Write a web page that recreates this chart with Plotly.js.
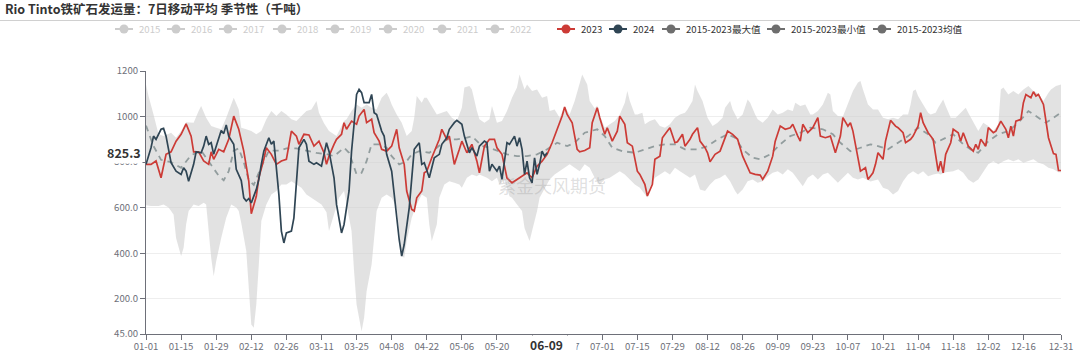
<!DOCTYPE html>
<html><head><meta charset="utf-8">
<script src="https://cdn.plot.ly/plotly-3.0.1.min.js"></script>
<style>html,body{margin:0;padding:0;background:#fff}#chart{width:1080px;height:352px}</style>
</head><body><div id="chart"></div>
<script>
// Day-of-year positions on the seasonal (leap-year) axis, 0 = 01-01
const day2023 = [0,2,4,6,8,10,12,14,16,18,
  19,21,23,25,26,27,29,31,33,35,
  37,39,41,42,44,45,47,48,50,52,
  54,56,58,60,61,63,65,67,69,71,
  72,73,75,76,78,79,80,82,84,85,
  87,88,90,91,93,94,96,98,100,101,
  103,104,106,107,108,110,111,112,114,116,
  117,118,120,121,123,125,126,128,130,132,
  133,135,137,139,140,142,144,146,148,150,
  152,154,156,158,160,162,164,166,167,168,
  170,172,173,175,177,178,180,181,183,184,
  186,188,189,191,192,194,196,197,199,200,
  202,203,205,206,208,209,211,212,214,215,
  217,218,220,221,223,224,225,227,229,230,
  232,234,236,238,239,241,243,245,246,248,
  250,251,253,255,257,258,260,261,262,264,
  266,268,269,271,273,275,277,278,280,281,
  282,284,285,287,288,290,291,292,294,295,
  297,299,300,302,303,305,306,308,309,310,
  312,314,315,316,317,318,319,321,322,324,
  325,326,328,330,331,332,333,335,336,338,
  339,341,343,344,345,346,347,349,350,351,
  353,354,355,356,358,359,360,362,363,364,365];
const val2023 = [790,790,805,731,834,845,892,922,968,914,
  845,845,805,790,845,812,856,845,900,1002,
  944,848,716,573,650,731,812,863,834,790,
  805,812,936,914,878,922,919,870,892,841,
  790,826,878,900,922,973,944,980,966,1002,
  1031,973,988,929,892,856,848,870,944,863,
  790,673,592,585,643,673,753,760,819,870,
  900,944,900,914,790,856,892,841,878,804,
  753,870,900,900,863,834,730,709,724,738,
  753,731,782,804,834,885,944,1002,1042,1009,
  973,856,845,851,863,973,1039,995,922,951,
  892,936,1002,966,885,870,760,746,702,651,
  702,812,826,907,936,951,885,889,922,870,
  900,922,951,892,863,841,801,834,848,878,
  936,922,900,826,804,753,746,743,724,760,
  826,892,958,944,951,966,914,892,966,929,
  951,995,914,907,914,841,914,995,958,973,
  936,819,760,775,724,753,790,841,812,892,
  983,958,951,929,885,900,914,958,1017,973,
  929,900,826,760,804,753,834,885,944,929,
  892,929,870,848,878,856,900,870,951,929,
  936,980,944,907,958,914,980,988,1061,1097,
  1083,1109,1090,1097,1053,973,907,837,834,763,763];

const day2024 = [0,2,3,4,6,7,8,9,10,12,
  14,15,16,17,19,20,22,23,24,25,
  26,27,29,30,31,32,33,35,36,38,
  39,40,41,42,44,45,46,47,49,50,
  51,52,53,54,55,56,58,59,60,61,
  63,64,65,67,68,70,72,73,75,76,
  78,79,81,82,83,84,85,86,87,89,
  90,91,92,94,95,96,98,99,100,101,
  102,103,105,106,107,109,110,111,113,114,
  115,117,118,120,121,123,124,126,127,129,
  130,132,133,135,136,137,138,140,141,142,
  144,145,147,148,149,150,151,152,153,154,
  155,156,157,158,159,160];
const val2024 = [790,863,914,900,944,948,914,848,797,760,
  746,775,760,716,790,845,841,870,914,878,
  885,834,907,939,925,963,914,878,768,719,
  643,629,640,621,680,724,790,848,907,878,
  892,790,658,497,445,489,497,555,716,863,
  900,878,804,790,797,782,885,848,731,614,
  489,526,673,848,966,1097,1119,1105,1061,1061,
  1097,1017,1009,936,914,834,760,658,555,460,
  387,438,599,746,856,885,790,797,731,775,
  819,834,878,907,944,973,983,966,914,841,
  863,826,870,892,885,760,790,760,782,724,
  885,878,914,870,907,856,746,804,731,709,
  819,746,790,848,826,841];

const dayAvg = [0,3,6,10,14,18,22,26,29,31,
  33,35,37,39,41,43,46,49,53,56,
  60,64,68,72,75,79,81,84,86,88,
  90,93,96,98,101,104,106,109,113,116,
  120,124,128,130,134,137,141,144,148,152,
  156,160,164,168,171,175,180,183,186,190,
  195,199,203,207,211,215,218,220,224,228,
  232,235,238,242,245,249,253,257,261,265,
  270,274,277,281,285,289,292,296,300,304,
  308,312,315,318,322,326,330,332,336,340,
  344,348,352,355,359,362,365];
const valAvg = [960,870,810,800,775,830,850,790,740,720,
  760,850,860,800,720,700,780,850,850,860,
  860,850,840,835,826,863,841,746,753,804,
  878,878,863,826,790,804,834,848,841,863,
  900,900,907,914,870,863,848,834,826,826,
  834,856,885,870,885,929,944,914,863,848,
  841,856,870,878,878,856,856,856,870,900,
  922,907,856,819,812,834,878,914,929,951,
  944,922,885,848,863,878,870,856,885,914,
  951,922,885,900,922,878,848,841,892,922,
  936,973,1024,1002,973,995,1017];

const dayMax = [0,1,3,5,7,10,12,14,16,19,
  21,22,24,26,28,30,32,34,35,37,
  38,40,42,44,46,48,50,52,54,56,
  58,60,62,64,66,68,69,71,73,76,
  79,80,82,84,86,88,90,92,94,96,
  97,98,100,102,104,106,107,108,110,111,
  112,114,116,118,120,122,124,126,127,129,
  130,132,133,135,137,138,140,142,144,146,
  148,149,151,152,154,156,158,160,161,163,
  165,167,169,171,173,174,176,177,179,180,
  181,183,185,187,189,191,192,193,195,196,
  198,199,201,203,205,207,209,211,213,215,
  216,218,219,220,222,224,226,228,230,231,
  233,234,236,238,240,241,243,244,246,248,
  250,252,254,256,258,259,261,263,265,266,
  268,270,272,273,274,276,278,280,282,284,
  285,286,288,290,292,294,296,298,300,302,
  304,305,306,307,308,310,312,313,315,316,
  318,319,321,323,325,327,328,330,332,334,
  336,338,340,341,342,344,346,348,350,352,
  354,356,358,360,361,363,365];
const valMax = [1141,1090,1009,922,914,929,907,936,975,973,
  1024,1046,995,958,951,944,995,1053,1083,1031,
  951,944,936,922,936,988,1024,1002,1024,1009,
  988,980,1002,1024,1031,1068,1017,970,936,914,
  980,988,1024,1053,1039,1053,1039,1031,1083,1105,
  1083,1053,1009,973,914,936,995,1090,1061,1083,
  1083,1046,1009,1017,1024,995,980,1039,1127,1134,
  1119,1024,988,973,988,1046,973,980,1024,1083,
  1127,1185,1119,1141,1112,1119,1083,1090,1024,1031,
  995,1045,1009,1068,1141,1185,1141,1068,1035,1048,
  1005,951,966,980,1009,1061,1112,1068,1009,1009,
  1017,966,980,988,958,951,966,995,1009,1017,
  1031,1068,1141,1112,1068,995,958,973,995,1039,
  1068,1031,988,1009,1075,1061,1009,988,973,995,
  1031,1009,1017,1031,1024,1061,1046,1053,1009,1009,
  1024,1053,1105,1097,1024,1002,1000,1053,1112,1149,
  1156,1119,1053,1031,1031,995,988,995,988,1009,
  1009,1053,1112,1119,1090,1053,1017,1009,1017,1039,
  1075,1046,995,995,1017,1039,1017,973,936,973,
  958,936,966,1119,1127,1097,1112,1097,1119,1134,
  1112,1100,1068,1105,1119,1134,1141];

const dayMin = [0,2,5,7,9,11,12,14,15,16,
  17,19,21,23,24,25,26,27,28,30,
  32,34,36,37,38,40,41,42,43,44,
  45,46,48,50,52,54,56,58,60,62,
  64,66,68,70,72,73,75,77,79,80,
  82,83,84,86,87,88,90,91,92,94,
  96,98,100,101,102,103,104,106,108,110,
  112,113,114,116,117,119,121,123,125,126,
  128,130,132,133,136,138,140,141,143,145,
  146,148,150,151,153,154,156,157,159,161,
  163,165,167,169,171,173,175,177,179,181,
  183,185,187,189,191,193,195,197,199,200,
  201,203,205,207,209,211,213,215,217,219,
  221,223,225,227,229,231,233,235,236,238,
  240,242,244,246,248,250,252,254,256,258,
  260,262,264,266,268,270,272,274,276,278,
  280,282,284,286,288,289,292,294,296,298,
  300,302,304,306,308,310,312,314,316,317,
  319,322,324,326,328,330,332,334,336,338,
  340,342,344,346,348,350,352,354,356,358,
  360,362,364,365];
const valMin = [610,607,607,614,600,570,467,387,424,526,
  585,614,607,621,614,497,380,299,365,467,
  555,614,600,585,533,409,233,87,72,175,
  350,541,614,658,673,702,702,716,702,687,
  658,643,629,614,580,497,570,643,673,614,
  497,321,175,57,116,233,350,467,585,643,
  658,643,599,497,387,380,453,555,614,658,
  643,526,453,526,643,702,716,709,702,687,
  731,746,738,745,731,716,731,702,724,650,
  643,614,585,511,453,497,585,643,687,724,
  746,760,775,790,775,760,790,775,731,702,
  724,731,746,760,746,724,702,687,660,645,
  690,731,746,760,746,775,760,746,731,746,
  680,673,702,724,731,746,716,673,658,680,
  716,724,709,716,738,753,760,746,768,753,
  724,694,731,746,724,746,753,731,709,731,
  753,731,724,731,720,715,724,687,680,658,
  673,716,746,760,746,760,738,746,750,745,
  755,760,768,753,724,709,724,760,790,804,
  790,804,812,804,812,797,804,812,797,790,
  775,768,755,755];

const xTickLabels = ['01-01','01-15','01-29','02-12','02-26','03-11','03-25','04-08','04-22','05-06','05-20','06-03','06-17',
  '07-01','07-15','07-29','08-12','08-26','09-09','09-23','10-07','10-21','11-04','11-18','12-02','12-16','12-31'];
const yTickVals = [45,200,400,600,800,1000,1200];
const yTickLabels = ['45.00','200.0','400.0','600.0','800.0','1000','1200'];
const legendNames = ['2015','2016','2017','2018','2019','2020','2021','2022','2023','2024','2015-2023最大值','2015-2023最小值','2015-2023均值'];
const pointerDate = '06-09';
const pointerValue = '825.3';
const titleText = 'Rio Tinto铁矿石发运量：7日移动平均 季节性（千吨）';
const watermark = '紫金天风期货';

// ---- styling / layout ----
const FONT = '"Noto Sans CJK SC","Noto Sans",sans-serif';
const W = 1080, H = 352, ML = 146, MR = 19, MT = 71, MB = 18;
const PW = W - ML - MR, PH = H - MT - MB;
const px = x => (x - ML) / PW;
const py = y => (H - MB - y) / PH;
const YEAR = 2024;
const toDate = d => new Date(Date.UTC(YEAR, 0, 1) + d * 86400000).toISOString().slice(0, 10);
const mmdd = s => YEAR + '-' + s;

const C2023 = '#cc3b36', C2024 = '#2f4554', CGREY = '#6e6e6e', COFF = '#cccccc';
const legendColors = [COFF,COFF,COFF,COFF,COFF,COFF,COFF,COFF,C2023,C2024,CGREY,CGREY,CGREY];
const legendTextColors = legendColors.map(c => c === COFF ? COFF : '#333');
const legendCx = [124,176,228,282,335,388,442,495,566,618,671,776,882];
const legendY = 29;
const TICKFONT = {family: FONT, size: 9.6, color: '#6E7079'};

const traces = [
  {x: dayMin.map(toDate), y: valMin, name: legendNames[11], type: 'scatter', mode: 'lines',
   line: {width: 0, color: 'rgba(200,200,200,0)'}, hoverinfo: 'skip'},
  {x: dayMax.map(toDate), y: valMax, name: legendNames[10], type: 'scatter', mode: 'lines',
   line: {width: 0, color: 'rgba(200,200,200,0)'}, fill: 'tonexty', fillcolor: 'rgba(205,205,205,0.58)', hoverinfo: 'skip'},
  {x: dayAvg.map(toDate), y: valAvg, name: legendNames[12], type: 'scatter', mode: 'lines',
   line: {width: 1.8, color: '#929d9e', dash: '6px,5px'}},
  {x: day2023.map(toDate), y: val2023, name: legendNames[8], type: 'scatter', mode: 'lines',
   line: {width: 1.7, color: C2023}},
  {x: day2024.map(toDate), y: val2024, name: legendNames[9], type: 'scatter', mode: 'lines',
   line: {width: 1.7, color: C2024}}
];

const shapes = [
  {type: 'line', xref: 'paper', yref: 'paper', x0: px(0), x1: px(W), y0: py(20.5), y1: py(20.5),
   line: {color: '#d0d0d0', width: 1}}
];
const annotations = [];
legendNames.forEach((n, i) => {
  const cx = legendCx[i];
  shapes.push({type: 'line', xref: 'paper', yref: 'paper', x0: px(cx - 9), x1: px(cx + 9), y0: py(legendY), y1: py(legendY),
    line: {color: legendColors[i], width: 2}});
  shapes.push({type: 'circle', xref: 'paper', yref: 'paper', x0: px(cx - 4.5), x1: px(cx + 4.5), y0: py(legendY + 4.5), y1: py(legendY - 4.5),
    fillcolor: legendColors[i], line: {width: 0}});
  annotations.push({xref: 'paper', yref: 'paper', x: px(cx + 13), y: py(legendY), xanchor: 'left', yanchor: 'middle',
    text: n, showarrow: false, font: {family: FONT, size: 9.6, color: legendTextColors[i]}});
});
annotations.push({xref: 'paper', yref: 'paper', x: px(552), y: py(185), xanchor: 'center', yanchor: 'middle',
  text: watermark, showarrow: false, font: {family: FONT, size: 18, color: 'rgba(150,150,150,0.3)'}});
annotations.push({xref: 'paper', yref: 'paper', x: px(143), y: py(152), xanchor: 'right', yanchor: 'middle',
  text: '<b>' + pointerValue + '</b>', showarrow: false, bgcolor: '#ffffff', borderpad: 1,
  font: {family: FONT, size: 12.5, color: '#333'}});
annotations.push({xref: 'x', yref: 'paper', x: mmdd(pointerDate), y: py(344.5), xanchor: 'center', yanchor: 'middle',
  text: '<b>' + pointerDate + '</b>', showarrow: false, bgcolor: '#ffffff', width: 57, height: 15, xshift: -1,
  font: {family: FONT, size: 12, color: '#333'}});

const layout = {
  width: W, height: H, margin: {l: ML, r: MR, t: MT, b: MB},
  paper_bgcolor: '#fff', plot_bgcolor: '#fff', showlegend: false, hovermode: false,
  title: {text: '<b>' + titleText + '</b>', x: 5 / W, xanchor: 'left', xref: 'container',
    y: 1 - 10 / H, yanchor: 'middle', yref: 'container', font: {family: FONT, size: 12.5, color: '#333'}},
  xaxis: {type: 'date', range: [mmdd('01-01'), mmdd('12-31')], tickvals: xTickLabels.map(mmdd), ticktext: xTickLabels,
    ticks: 'outside', ticklen: 5, tickcolor: '#6E7079', showline: true, linecolor: '#6E7079', linewidth: 1,
    showgrid: false, zeroline: false, automargin: false, ticklabelstandoff: -2, tickfont: TICKFONT},
  yaxis: {range: [45, 1200], tickvals: yTickVals, ticktext: yTickLabels, ticks: 'outside', ticklen: 5, tickcolor: '#6E7079',
    showline: true, linecolor: '#6E7079', linewidth: 1, showgrid: true, gridcolor: '#eeeeee', zeroline: false,
    automargin: false, tickfont: TICKFONT},
  shapes: shapes, annotations: annotations
};
Plotly.newPlot('chart', traces, layout, {staticPlot: true, displayModeBar: false});
</script>
</body></html>
